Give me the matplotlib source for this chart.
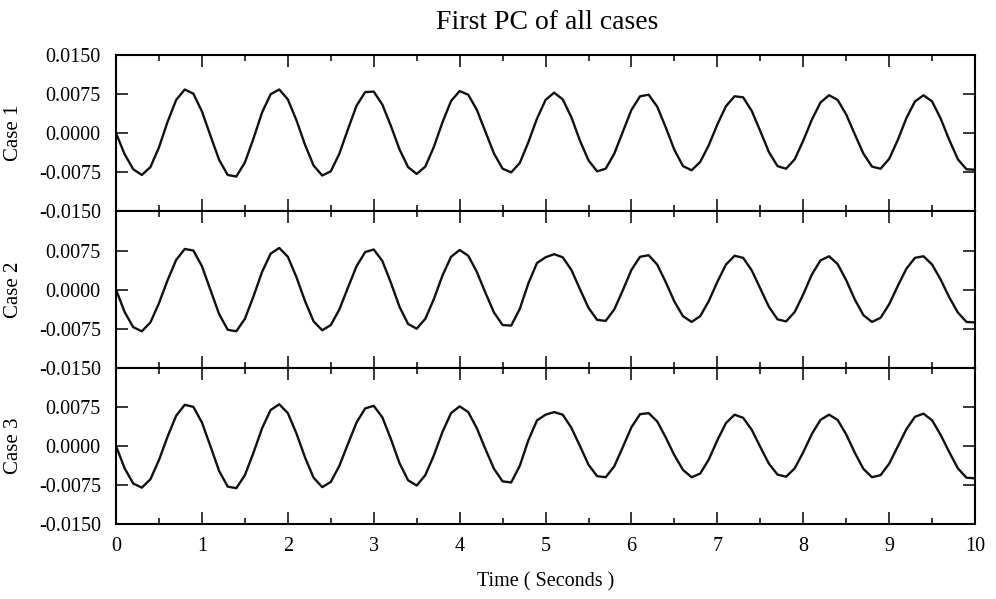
import matplotlib
matplotlib.use("Agg")
import matplotlib.pyplot as plt
import numpy as np

plt.rcParams['font.family'] = ['Liberation Serif', 'DejaVu Serif']

# time axis (seconds) and first principal component of each case (x 1e-3)
time_s = np.round(np.arange(0, 101) * 0.1, 1)

case1 = [0, -4.0, -6.9, -8.0, -6.5, -2.7, 2.2, 6.4, 8.4, 7.6,
         4.2, -0.5, -5.1, -8.0, -8.3, -5.6, -1.0, 4.0, 7.5, 8.4,
         6.5, 2.5, -2.2, -6.2, -8.1, -7.3, -3.9, 0.8, 5.3, 7.9,
         8.0, 5.5, 1.4, -3.1, -6.5, -7.8, -6.4, -2.6, 2.1, 6.2,
         8.1, 7.4, 4.5, 0.3, -3.9, -6.8, -7.5, -5.7, -1.7, 2.8,
         6.4, 7.8, 6.5, 3.1, -1.4, -5.2, -7.3, -6.8, -3.9, 0.3,
         4.5, 7.1, 7.4, 5.1, 1.1, -3.2, -6.3, -7.1, -5.5, -2.3,
         1.7, 5.2, 7.1, 6.9, 4.3, 0.4, -3.6, -6.3, -6.8, -5.0,
         -1.4, 2.6, 5.9, 7.3, 6.4, 3.6, -0.2, -3.9, -6.4, -6.8,
         -4.9, -1.3, 2.9, 6.1, 7.3, 6.1, 2.8, -1.3, -5.0, -6.9,
         -7.0]

case2 = [0, -4.3, -7.2, -8.0, -6.3, -2.6, 1.8, 5.7, 7.8, 7.5,
         4.5, -0.1, -4.7, -7.7, -8.0, -5.6, -1.3, 3.4, 6.9, 8.0,
         6.3, 2.4, -2.2, -6.1, -7.8, -6.8, -3.8, 0.4, 4.5, 7.2,
         7.7, 5.5, 1.3, -3.3, -6.6, -7.5, -5.6, -1.8, 2.7, 6.3,
         7.6, 6.5, 3.4, -0.6, -4.4, -6.8, -6.9, -3.7, 1.2, 5.1,
         6.2, 6.8, 6.2, 3.8, 0.1, -3.5, -5.8, -6.0, -3.8, -0.1,
         3.8, 6.3, 6.6, 4.8, 1.4, -2.3, -5.1, -6.2, -5.1, -2.2,
         1.5, 4.8, 6.5, 6.1, 3.7, 0.2, -3.3, -5.7, -6.1, -4.3,
         -0.9, 2.9, 5.6, 6.4, 4.9, 1.8, -1.9, -4.9, -6.2, -5.4,
         -2.8, 0.7, 4.0, 6.1, 6.4, 4.8, 1.9, -1.5, -4.4, -6.2,
         -6.3]

case3 = [0, -4.3, -7.2, -8.0, -6.4, -2.7, 1.8, 5.8, 7.9, 7.5,
         4.5, -0.1, -4.8, -7.8, -8.1, -5.6, -1.3, 3.4, 6.9, 8.0,
         6.3, 2.4, -2.2, -6.1, -7.9, -6.9, -3.8, 0.4, 4.5, 7.2,
         7.7, 5.5, 1.3, -3.3, -6.6, -7.6, -5.6, -1.8, 2.7, 6.3,
         7.6, 6.5, 3.4, -0.6, -4.4, -6.8, -7.0, -3.8, 1.1, 4.9,
         6.0, 6.5, 6.0, 3.5, 0.0, -3.6, -5.8, -6.0, -3.9, -0.2,
         3.6, 6.1, 6.3, 4.7, 1.6, -1.8, -4.6, -6.0, -5.3, -2.6,
         1.1, 4.4, 6.0, 5.4, 3.1, -0.2, -3.4, -5.5, -5.9, -4.3,
         -1.2, 2.3, 5.0, 6.0, 5.0, 2.2, -1.3, -4.4, -6.0, -5.6,
         -3.4, -0.1, 3.2, 5.6, 6.2, 4.9, 2.1, -1.2, -4.3, -6.1,
         -6.2]

case_names = ["Case 1", "Case 2", "Case 3"]
y_ticks = [-0.015, -0.0075, 0.0, 0.0075, 0.015]
y_ticklabels = ["-0.0150", "-0.0075", "0.0000", "0.0075", "0.0150"]
x_ticks = list(range(0, 11))

fig, axes = plt.subplots(3, 1, figsize=(9.96, 5.99), dpi=100, sharex=True)
fig.subplots_adjust(left=0.1165, right=0.979, top=0.908, bottom=0.125, hspace=0)

for k, (ax, name, vals) in enumerate(zip(axes, case_names, [case1, case2, case3])):
    ax.plot(time_s, np.array(vals) * 1e-3, color="#111111", lw=1.7)
    ax.set_xlim(0, 10)
    ax.set_ylim(-0.015, 0.015)
    ax.set_yticks(y_ticks)
    labels = list(y_ticklabels)
    if k > 0:
        labels[-1] = ""  # hidden under the panel above
    ax.set_yticklabels(labels)
    ax.set_xticks(x_ticks)
    ax.set_xticks(np.arange(0.5, 10, 1.0), minor=True)
    ax.tick_params(which="both", direction="in", top=True, right=True,
                   labelsize=14.5, width=1.1)
    ax.tick_params(which="major", length=8.5, pad=11)
    ax.tick_params(which="minor", length=4.5)
    ax.tick_params(axis="x", which="major", pad=9)
    for sp in ax.spines.values():
        sp.set_linewidth(1.5)
    ax.set_ylabel(name, fontsize=15)
    ax.yaxis.set_label_coords(-0.108, 0.5)

axes[-1].set_xticklabels([str(t) for t in x_ticks])
axes[-1].set_xlabel("Time ( Seconds )", fontsize=14.5, labelpad=12)

fig.suptitle("First PC of all cases", fontsize=20, x=0.549, y=0.963, va="center")

fig.savefig("out.png", dpi=100)
